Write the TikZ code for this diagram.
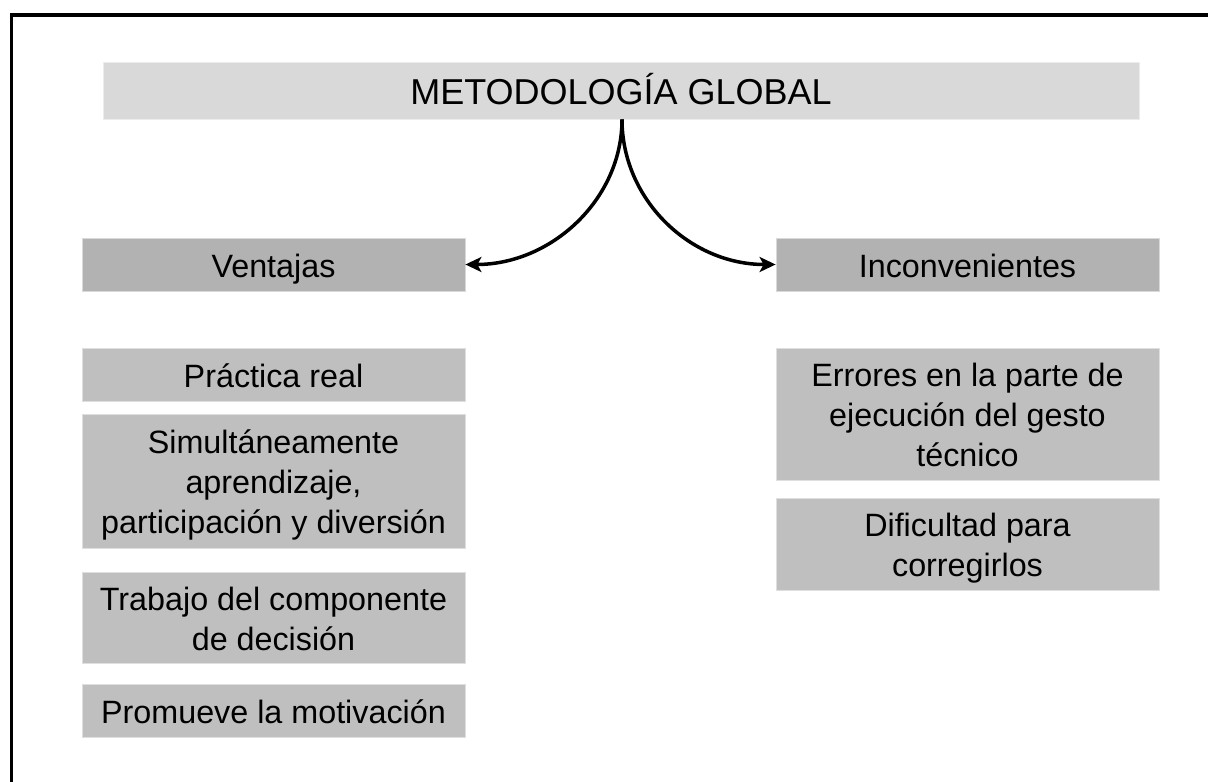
\documentclass[tikz,border=0pt]{standalone}
\usepackage{fontspec}
\setmainfont{Liberation Sans}
\usetikzlibrary{arrows.meta}
\definecolor{titlegray}{HTML}{D9D9D9}
\definecolor{headgray}{HTML}{B2B2B2}
\definecolor{itemgray}{HTML}{BFBFBF}
\newcommand{\mystrut}{\rule[-7.5pt]{0pt}{40pt}}
\newcommand{\tstrut}{\rule[-8pt]{0pt}{44pt}}
\begin{document}
\begin{tikzpicture}[x=1pt,y=-1pt,
  basebox/.style={inner sep=0pt, align=center, font=\fontsize{32.3}{40}\selectfont, text=black},
  titlebox/.style={basebox, fill=titlegray, draw=white!50!titlegray, line width=0.8pt, font=\fontsize{36}{44}\selectfont, minimum width=1036pt, minimum height=57pt},
  headbox/.style={basebox, fill=headgray, draw=white!50!headgray, line width=0.8pt, minimum width=383pt, minimum height=53pt},
  itembox/.style={basebox, fill=itemgray, draw=white!50!itemgray, line width=0.8pt, minimum width=383pt},
  conn/.style={line width=3.5pt, -{Stealth[length=16pt,width=15pt,inset=4pt]}},
  frameline/.style={line width=3.4pt, line join=miter}
]
\useasboundingbox (0,0) rectangle (1208,782);
% frame (top and left edges)
\draw[frameline] (11.7,790) -- (11.7,15) -- (1215,15);

% title
\node[titlebox] (title) at (621,90.5) {\tstrut METODOLOGÍA GLOBAL};

% headers
\node[headbox] (vent) at (273.5,264.5) {\mystrut Ventajas};
\node[headbox] (inc) at (967.5,264.5) {\mystrut Inconvenientes};

% left items
\node[itembox, minimum height=53pt] (prac) at (273.5,374.5) {\mystrut Práctica real};
\node[itembox, minimum height=134pt] (simu) at (273.5,481) {\mystrut Simultáneamente\\\mystrut aprendizaje,\\\mystrut participación y diversión};
\node[itembox, minimum height=91pt] (trab) at (273.5,617.5) {\mystrut Trabajo del componente\\\mystrut de decisión};
\node[itembox, minimum height=53pt] (prom) at (273.5,710.5) {\mystrut Promueve la motivación};

% right items
\node[itembox, minimum height=132pt] (err) at (967.5,414) {\mystrut Errores en la parte de\\\mystrut ejecución del gesto\\\mystrut técnico};
\node[itembox, minimum height=92pt] (dif) at (967.5,544) {\mystrut Dificultad para\\\mystrut corregirlos};

% connectors
\draw[conn] ([xshift=1pt]title.south) .. controls +(0,80) and +(86,0) .. (vent.east);
\draw[conn] ([xshift=1pt]title.south) .. controls +(0,80) and +(-86,0) .. (inc.west);
\end{tikzpicture}
\end{document}
